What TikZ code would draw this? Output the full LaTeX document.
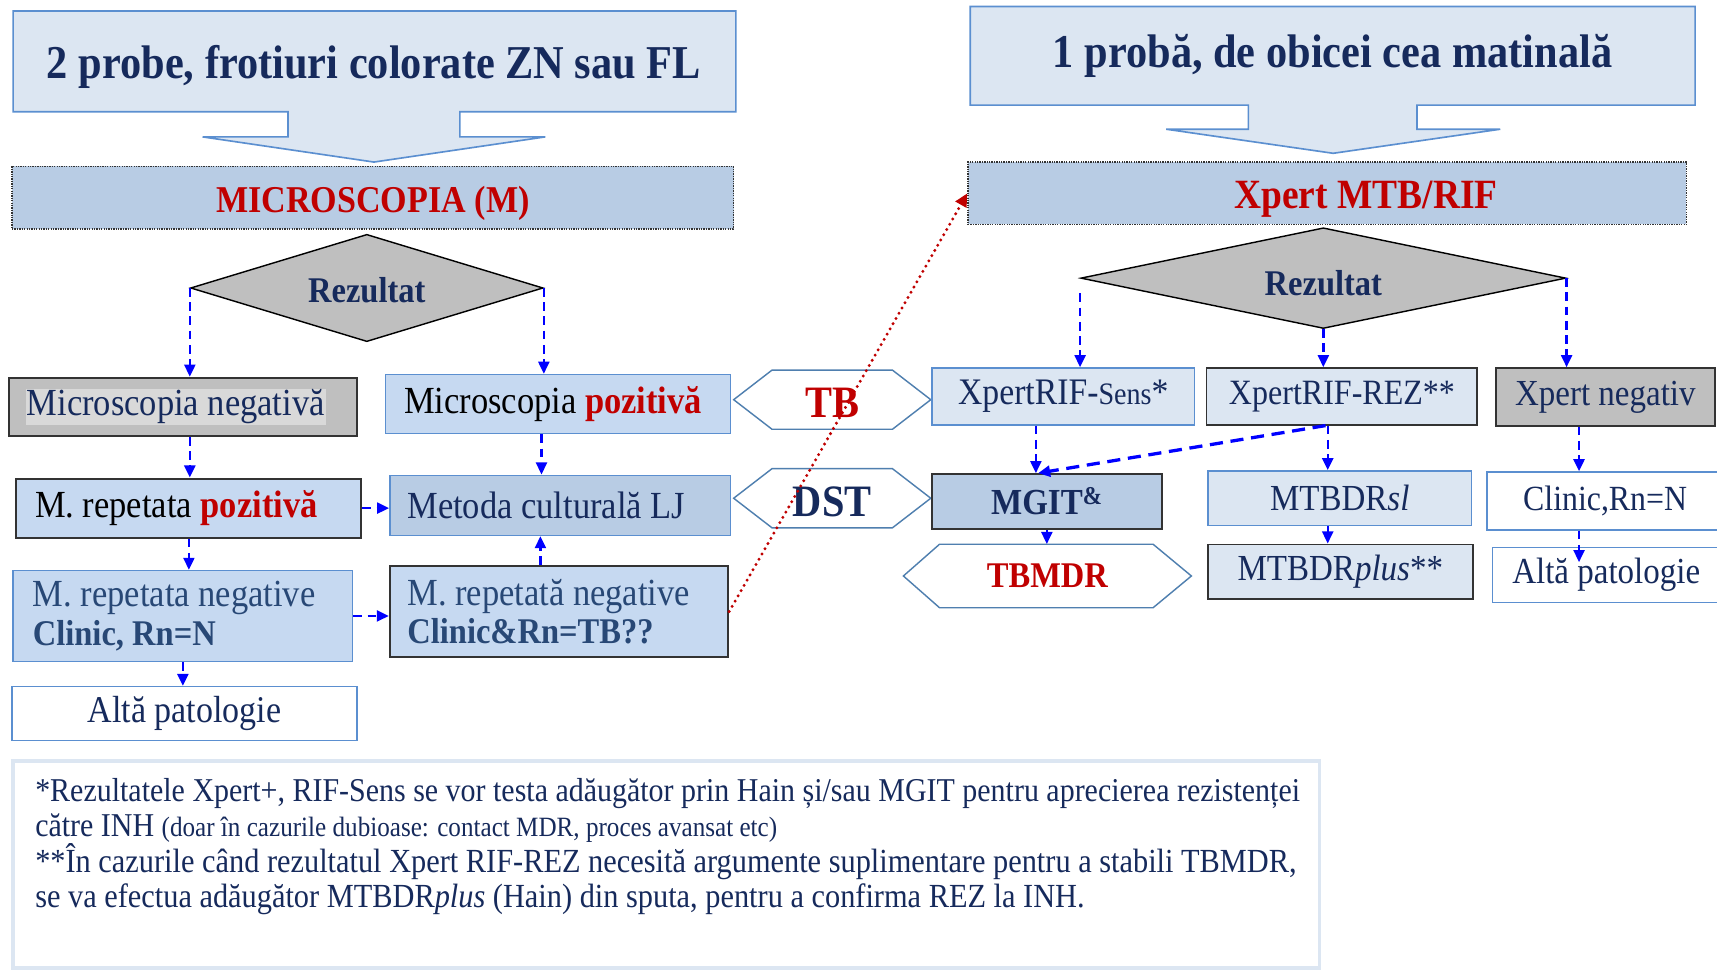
\documentclass[tikz,border=0pt]{standalone}
\usepackage{fontspec}
\setmainfont{Liberation Serif}[FakeStretch=0.9]
\usetikzlibrary{arrows.meta,shapes.geometric}
\definecolor{navy}{RGB}{22,42,92}
\definecolor{steel}{RGB}{40,72,118}
\definecolor{dred}{RGB}{192,0,0}
\definecolor{pale}{HTML}{DCE6F2}
\definecolor{lblue}{HTML}{C6D9F1}
\definecolor{mblue}{HTML}{B8CCE4}
\definecolor{bblue}{HTML}{5B8FD0}
\definecolor{hexb}{HTML}{4F7FAF}
\definecolor{gfill}{HTML}{BFBFBF}
\definecolor{gin}{HTML}{D9D9D9}
\definecolor{dk}{HTML}{333333}
\newcommand\fs[1]{\fontsize{#1}{#1}\selectfont}
\newcommand\fsb[2]{\fontsize{#1}{#2}\selectfont}
\tikzset{
  box/.style={draw, inner sep=0pt, line width=1.3pt, font=\fs{35}, text=navy},
  rbox/.style={box, font=\fs{33.5}},
  bluebox/.style={box, draw=bblue},
  darkbox/.style={box, draw=dk, line width=1.8pt},
  hexs/.style={draw=hexb, fill=white, line width=1.3pt},
  arr/.style={draw=blue, line width=2.2pt, dash pattern=on 8pt off 5pt, -{Triangle[length=11pt,width=10pt]}},
  fnt/.style={font=\fs{30.4}, text=navy, inner sep=0pt, anchor=base west},
  titlebox/.style={draw=bblue, fill=pale, line width=1.5pt}
}
\begin{document}
\begin{tikzpicture}[x=1pt,y=-1pt]
\useasboundingbox[fill=white] (0,0) rectangle (1568,885);

% ---------- left titles ----------
\draw[titlebox] (12,10) -- (672,10) -- (672,102) -- (420,102) -- (420,125) -- (498,125) -- (341.5,148) -- (185,125) -- (263,125) -- (263,102) -- (12,102) -- cycle;
\node[font=\bfseries\fs{43}, text=navy] (t1) at (341.5,61) {2 probe, frotiuri colorate ZN sau FL};

\node[fill=mblue, draw=dk, densely dotted, line width=1.2pt, minimum width=659pt, minimum height=57pt, inner sep=0pt] (micro) at (340.5,180.5) {};
\node[font=\bfseries\fs{34.6}, text=dred, inner sep=0pt] (microt) at ([yshift=-5pt]micro.center) {MICROSCOPIA (M)};

\node[diamond, draw=black, fill=gfill, line width=1.3pt, minimum width=322pt, minimum height=98pt, inner sep=0pt] (dL) at (335,263) {};
\node[font=\bfseries\fs{33}, text=navy, inner sep=0pt] (dLt) at ([yshift=-2pt]dL.center) {Rezultat};

% ---------- left boxes ----------
\node[box, draw=dk, line width=2pt, fill=gfill, minimum width=318pt, minimum height=53pt] (mneg) at (167,371.5) {};
\node[fill=gin, inner xsep=1pt, inner ysep=0pt, minimum height=33pt, font=\fs{35}, text=navy] (mnegt) at ([xshift=-6.5pt]mneg.center) {Microscopia negativă};

\node[bluebox, fill=lblue, minimum height=54pt, text width=281pt, inner xsep=17pt, align=flush left, text=black] (mpoz) at (509.5,369) {Microscopia \textcolor{dred}{\bfseries pozitivă}};

\node[darkbox, fill=lblue, minimum height=54pt, text width=281pt, inner xsep=17pt, align=flush left, text=black] (mrpoz) at (172.5,464) {M. repetata \textcolor{dred}{\bfseries pozitivă}};

\node[bluebox, fill=mblue, minimum height=55pt, text width=279pt, inner xsep=16pt, align=flush left] (metoda) at (511.5,461.5) {Metoda culturală LJ};

\node[bluebox, fill=lblue, minimum height=83pt, text width=274pt, inner xsep=18pt, align=flush left, text=steel, font=\fsb{35}{35}] (mrneg) at (167,562.5) {M. repetata negative\\\bfseries\fs{33}Clinic, Rn=N};

\node[darkbox, fill=lblue, minimum height=83pt, text width=277pt, inner xsep=16pt, align=flush left, text=steel, font=\fsb{35}{35}] (mrneg2) at (510.5,558.5) {M. repetată negative\\\bfseries\fs{33}Clinic\&Rn=TB??};

\node[bluebox, fill=white, minimum width=315pt, minimum height=49pt, font=\fs{34.5}] (alt1) at (168.5,651.5) {Altă patologie};

% ---------- hexagons ----------
\draw[hexs] (670,365) -- (705,338) -- (815,338) -- (850,365) -- (815,392) -- (705,392) -- cycle;
\node[font=\bfseries\fs{41}, text=dred, minimum height=54pt, inner sep=0pt] (tb) at (760,368) {TB};
\draw[hexs] (670,455) -- (705,428) -- (815,428) -- (850,455) -- (815,482) -- (705,482) -- cycle;
\node[font=\bfseries\fs{41}, text=navy, minimum height=54pt, inner sep=0pt] (dst) at (760,458) {DST};
\draw[hexs] (825,526) -- (858,497) -- (1053,497) -- (1088,526) -- (1053,555) -- (858,555) -- cycle;
\node[font=\bfseries\fs{33}, text=dred, minimum height=58pt, inner sep=0pt] (tbmdr) at (956.5,526) {TBMDR};

% ---------- right titles ----------
\draw[titlebox] (886,6) -- (1548,6) -- (1548,96) -- (1294,96) -- (1294,118) -- (1370,118) -- (1217.5,140) -- (1065,118) -- (1140,118) -- (1140,96) -- (886,96) -- cycle;
\node[font=\bfseries\fs{43}, text=navy] (t2) at (1217,51) {1 probă, de obicei cea matinală};

\node[fill=mblue, draw=dk, densely dotted, line width=1.2pt, minimum width=656pt, minimum height=57pt, inner sep=0pt] (xpert) at (1212,176.5) {};
\node[font=\bfseries\fs{38}, text=dred, inner sep=0pt] (xtxt) at ([xshift=35.5pt,yshift=-5pt]xpert.center) {Xpert MTB/RIF};

\node[diamond, draw=black, fill=gfill, line width=1.3pt, minimum width=443pt, minimum height=92pt, inner sep=0pt] (dR) at (1208.5,254) {};
\node[font=\bfseries\fs{33}, text=navy, inner sep=0pt] (dRt) at ([yshift=-5pt]dR.center) {Rezultat};

% ---------- right boxes ----------
\node[bluebox, rbox, fill=pale, minimum width=240pt, minimum height=52pt, font=\fs{34.2}] (sens) at (971,362) {XpertRIF-{\fs{28.5}Sens}*};
\node[darkbox, rbox, fill=pale, minimum width=247pt, minimum height=52pt, font=\fs{32.5}] (rez) at (1225.5,362) {XpertRIF-REZ**};
\node[darkbox, rbox, fill=gfill, minimum width=200pt, minimum height=53pt] (xneg) at (1466,362.5) {Xpert negativ};

\node[darkbox, fill=mblue, minimum width=210pt, minimum height=50pt, font=\bfseries\fs{33.5}] (mgit) at (956,458) {MGIT\textsuperscript{\&}};
\node[bluebox, rbox, fill=pale, minimum width=241pt, minimum height=50pt] (sl) at (1223.5,455) {MTBDR\textit{sl}};
\node[darkbox, rbox, fill=pale, minimum width=242pt, minimum height=50pt] (plus) at (1224,522) {MTBDR\textit{plus}**};

\node[bluebox, rbox, fill=white, minimum width=230pt, minimum height=53pt, text width=210pt, align=flush left, inner xsep=0pt, font=\fs{32.3}] (clin) at (1473,457.5) {\hspace*{23pt}Clinic,Rn=N};
\node[bluebox, rbox, fill=white, minimum width=225pt, minimum height=50pt, text width=225pt, align=flush left] (alt2) at (1475.5,525) {\hspace*{18pt}Altă patologie};

% ---------- footnote ----------
\node[draw=pale, line width=3.5pt, minimum width=1193pt, minimum height=189pt, inner sep=0pt] (fn) at (608.5,789.5) {};
\node[fnt] (f1) at (32,732) {*Rezultatele Xpert+, RIF-Sens se vor testa adăugător prin Hain și/sau MGIT pentru aprecierea rezistenței};
\node[fnt] (f2) at (32,764) {către INH {\fs{25.5}(doar în cazurile dubioase: contact MDR, proces avansat etc)}};
\node[fnt, font=\fs{30.8}] (f3) at (32,797) {**În cazurile când rezultatul Xpert RIF-REZ necesită argumente suplimentare pentru a stabili TBMDR,};
\node[fnt, font=\fs{30.8}] (f4) at (32,829) {se va efectua adăugător MTBDR\textit{plus} (Hain) din sputa, pentru a confirma REZ la INH.};

% ---------- connectors left ----------
\draw[arr] (dL.west) -- (dL.west |- mneg.north);
\draw[arr] (dL.east) -- (dL.east |- mpoz.north);
\draw[arr] (mneg.south -| dL.west) -- (mrpoz.north -| dL.west);
\draw[arr] ([xshift=-15pt]mpoz.south) -- ([xshift=-15pt]mpoz.south |- metoda.north);
\draw[arr] (mrpoz.east) -- (mrpoz.east -| metoda.west);
\draw[arr] (mrpoz.south) -- (mrpoz.south |- mrneg.north);
\draw[arr] (mrneg.east) -- (mrneg.east -| mrneg2.west);
\draw[arr] ([xshift=-17pt]mrneg2.north) -- ([xshift=-17pt]mrneg2.north |- metoda.south);
\draw[arr] (mrneg.south) -- (mrneg.south |- alt1.north);
\draw[dred, line width=3pt, line cap=round, dash pattern=on 0pt off 5.5pt, -{Triangle[length=12pt,width=11pt]}] (mrneg2.east) -- (xpert.west);

% ---------- connectors right ----------
\draw[arr] ([yshift=-14pt]dR.west) -- (dR.west |- sens.north);
\draw[arr] (dR.south) -- (dR.south |- rez.north);
\draw[arr] (dR.east) -- (dR.east |- xneg.north);
\draw[arr] ([xshift=-25pt]sens.south) -- ([xshift=-25pt]sens.south |- mgit.north);
\draw[arr, line width=3pt, dash pattern=on 12pt off 7pt] ([xshift=-15pt]rez.south) -- ([xshift=-8pt]mgit.north);
\draw[arr] ([xshift=-13pt]rez.south) -- ([xshift=-13pt]rez.south |- sl.north);
\draw[arr] (mgit.south) -- (mgit.south |- tbmdr.north);
\draw[arr] ([xshift=-11pt]sl.south) -- ([xshift=-11pt]sl.south |- plus.north);
\draw[arr] ([xshift=-24pt]xneg.south) -- ([xshift=-24pt]xneg.south |- clin.north);
\draw[arr] ([xshift=-31pt]clin.south) -- ([xshift=-31pt,yshift=-14pt]clin.south |- alt2.north);
\end{tikzpicture}
\end{document}
